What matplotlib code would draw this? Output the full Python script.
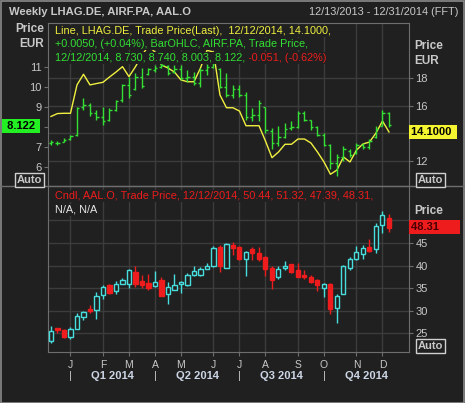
import numpy as np
import matplotlib
matplotlib.use('Agg')
import matplotlib.pyplot as plt
import matplotlib.transforms as mtransforms
from matplotlib.lines import Line2D
from matplotlib.patches import Rectangle

plt.rcParams['font.family'] = ['Liberation Sans', 'DejaVu Sans']

# weekly bars, index 0 = 12/13/2013 ... index 52 = 12/12/2014
weeks = np.arange(53)

# LHAG.DE line (right axis, top panel)
lhag = [15.22, 15.43, 15.45, 15.45, 17.5, 18.27, 17.5, 17.6, 17.69, 18.07,
        18.43, 18.82, 18.1, 18.82, 19.66, 20.3, 19.88, 18.94, 18.72, 18.43,
        17.86, 17.73, 17.73, 18.72, 20.0, 19.88, 16.77, 15.85, 15.85, 15.61,
        14.55, 14.55, 14.55, 13.44, 12.24, 12.65, 13.21, 13.21, 13.59, 13.59,
        13.30, 12.65, 11.93, 11.04, 11.35, 12.29, 11.93, 12.79, 13.23, 13.37,
        14.02, 14.89, 14.10]

# AIRF.PA OHLC (left axis, top panel)
airf_open = [7.2, 7.2, 7.28, 7.4, 7.6, 9.0, 9.1, 8.7, 8.5, 8.35,
             8.85, 9.35, 10.1, 9.9, 10.5, 10.65, 10.85, 11.0, 11.05, 10.75,
             10.9, 10.45, 10.5, 10.2, 10.85, 11.0, 10.9, 10.0, 9.6, 9.9,
             9.6, 8.5, 8.6, 9.0, 7.8, 7.2, 7.5, 7.95, 8.0, 8.7,
             8.35, 8.0, 7.6, 7.1, 6.2, 6.5, 6.8, 6.7, 7.1, 7.0,
             7.5, 8.05, 8.73]
airf_high = [7.35, 7.30, 7.44, 7.63, 9.03, 9.48, 9.22, 8.87, 8.99, 8.97,
             9.37, 10.16, 10.52, 10.70, 10.95, 10.97, 11.10, 11.25, 11.10, 11.10,
             11.10, 10.85, 10.77, 10.95, 11.15, 11.35, 10.95, 10.70, 10.11, 10.11,
             9.78, 8.97, 9.37, 9.03, 7.97, 8.04, 8.21, 8.29, 8.79, 8.79,
             8.38, 8.04, 7.72, 7.14, 6.64, 7.05, 6.89, 7.22, 7.22, 7.39,
             8.04, 8.87, 8.74]
airf_low = [7.09, 7.10, 7.24, 7.34, 7.55, 8.87, 8.54, 8.38, 8.13, 8.29,
            8.79, 9.28, 9.48, 9.86, 9.96, 10.60, 10.77, 10.98, 10.64, 10.70,
            10.36, 10.27, 10.11, 10.02, 10.60, 10.95, 9.96, 9.53, 9.47, 9.53,
            8.38, 8.29, 8.29, 7.72, 6.89, 7.05, 7.47, 7.88, 7.97, 8.29,
            7.88, 7.55, 7.05, 5.90, 5.57, 6.31, 6.48, 6.64, 6.89, 6.89,
            7.47, 8.04, 8.003]
airf_close = [7.25, 7.2, 7.38, 7.55, 8.95, 9.1, 8.7, 8.5, 8.3, 8.85,
              9.3, 10.1, 9.6, 10.5, 10.05, 10.9, 10.95, 11.1, 10.7, 10.9,
              10.45, 10.5, 10.2, 10.85, 11.0, 11.2, 10.0, 9.6, 9.9, 9.6,
              8.5, 8.6, 9.2, 7.85, 7.2, 7.5, 7.9, 8.0, 8.7, 8.35,
              8.0, 7.6, 7.1, 6.2, 6.5, 6.9, 6.6, 7.1, 7.0, 7.3,
              7.9, 8.73, 8.122]

# AAL.O candles (bottom panel)
aal_open = [23.4, 26.1, 25.8, 24.1, 26.0, 28.6, 30.4, 30.1, 33.6, 35.8,
            34.3, 36.0, 36.0, 38.6, 36.6, 36.1, 35.4, 36.9, 33.7, 34.7,
            36.0, 35.6, 38.0, 38.0, 39.2, 39.9, 44.2, 39.5, 44.5, 44.1,
            41.5, 43.6, 42.8, 42.0, 39.4, 37.5, 39.5, 40.3, 39.0, 38.0,
            37.5, 36.9, 35.1, 36.0, 30.6, 33.8, 39.5, 41.4, 42.5, 44.1,
            43.7, 48.9, 50.44]
aal_high = [26.7, 26.3, 26.0, 26.4, 29.4, 29.9, 31.2, 34.1, 35.6, 35.9,
            36.7, 37.2, 39.3, 39.9, 38.0, 38.2, 38.8, 37.5, 36.4, 38.2,
            36.6, 38.4, 39.9, 39.6, 40.5, 44.4, 44.6, 44.9, 45.2, 44.3,
            43.2, 44.1, 44.1, 42.1, 39.9, 40.0, 41.0, 40.4, 40.6, 39.0,
            38.0, 37.0, 36.1, 36.2, 33.8, 40.1, 42.0, 44.3, 44.6, 45.8,
            49.5, 52.0, 51.32]
aal_low = [22.8, 25.0, 24.0, 23.8, 26.0, 27.9, 29.5, 28.2, 32.6, 33.7,
           33.7, 35.9, 35.1, 35.3, 35.0, 34.6, 35.3, 33.2, 31.5, 34.6,
           34.0, 35.4, 37.7, 37.7, 39.2, 39.7, 38.6, 39.4, 42.3, 41.3,
           37.7, 41.3, 41.0, 37.7, 34.8, 37.0, 39.0, 38.3, 37.4, 37.1,
           36.2, 34.3, 33.1, 29.2, 27.4, 33.7, 39.0, 41.3, 41.5, 43.1,
           42.7, 47.2, 47.39]
aal_close = [25.6, 25.7, 24.2, 26.0, 28.9, 29.7, 29.9, 33.2, 35.3, 34.0,
             36.0, 36.9, 39.0, 36.0, 35.7, 35.0, 36.3, 33.2, 35.3, 35.8,
             36.3, 38.0, 38.8, 39.2, 40.0, 44.0, 40.0, 44.7, 44.0, 41.4,
             43.0, 42.8, 41.4, 39.3, 36.9, 39.2, 40.0, 38.6, 37.5, 37.5,
             36.3, 35.6, 36.0, 30.4, 33.2, 39.9, 41.4, 43.0, 44.0, 43.2,
             48.8, 51.2, 48.31]

month_pos = [3, 8, 12, 16, 20, 25, 29, 33, 38, 42, 47, 51]
month_lbl = ['J', 'F', 'M', 'A', 'M', 'J', 'J', 'A', 'S', 'O', 'N', 'D']
quarter_sep = [3, 16, 29, 42]
quarter_mid = [9.5, 22.5, 35.5, 48.5]
quarter_lbl = ['Q1 2014', 'Q2 2014', 'Q3 2014', 'Q4 2014']

BG = '#202020'
GRID = '#3c3c3c'
FRAME = '#6e6e6e'
TXT = '#c8c8c8'
GREEN = '#33e033'
YELLOW = '#f0f040'
RED = '#ee1c1c'
CYAN = '#48dede'

W, H = 465, 403
fig = plt.figure(figsize=(W / 100, H / 100), dpi=100)
fig.patch.set_facecolor(BG)

def fx(x):
    return x / W

def fy(y):
    return 1 - y / H

def ftext(x, y, s, **kw):
    kw.setdefault('va', 'center')
    kw.setdefault('color', TXT)
    return fig.text(fx(x), fy(y), s, **kw)

def boxed(x, y, s, fc, tc, **kw):
    return ftext(x, y, s, color=tc, fontweight='bold', fontsize=8,
                 bbox=dict(facecolor=fc, edgecolor='none', pad=1.5), **kw)

def style(ax):
    ax.set_facecolor(BG)
    for sp in ax.spines.values():
        sp.set_color(FRAME)
    ax.tick_params(colors=TXT, labelsize=8, length=3, width=0.8, pad=1.5)
    ax.tick_params(axis='both', which='both', color=FRAME)
    ax.set_xlim(-0.46, 55.08)
    ax.set_xticks(month_pos)

# ---- top panel: LHAG line (right axis) + AIRF OHLC bars (left axis)
ax_r = fig.add_axes([fx(48), fy(186), 361 / W, 163 / H])
style(ax_r)
ax_r.set_ylim(10.193, 21.976)
ax_r.grid(True, color=GRID, linewidth=1)
ax_r.set_axisbelow(True)
ax_r.tick_params(axis='x', length=0, labelbottom=False)
ax_r.plot(weeks, lhag, color=YELLOW, linewidth=1.0, zorder=2)

ax_l = ax_r.twinx()
# twinx moves the original ticks to the left, put them back on the right
ax_r.yaxis.tick_right()
ax_r.set_yticks([12, 14, 16, 18])
ax_r.set_yticklabels(['12', '', '16', '18'])   # 14 sits under the last-value box
ax_l.yaxis.tick_left()
ax_l.patch.set_visible(False)
for sp in ax_l.spines.values():
    sp.set_visible(False)
ax_l.set_ylim(5.046, 13.23)
ax_l.set_yticks([6, 7, 8, 9, 10, 11])
ax_l.set_yticklabels(['6', '7', '', '9', '10', '11'])
ax_l.tick_params(colors=TXT, labelsize=8, length=3, width=0.8, pad=1.5)
ax_l.tick_params(axis='y', color=FRAME)
ax_l.tick_params(axis='x', length=0, labelbottom=False)
ax_l.set_xlim(-0.46, 55.08)
ax_l.vlines(weeks, airf_low, airf_high, color=GREEN, linewidth=1.0)
ax_l.hlines(airf_open, weeks - 0.38, weeks, color=GREEN, linewidth=1.0)
ax_l.hlines(airf_close, weeks, weeks + 0.38, color=GREEN, linewidth=1.0)

# ---- bottom panel: AAL candles
ax_b = fig.add_axes([fx(48), fy(352), 361 / W, 166 / H])
style(ax_b)
ax_b.set_ylim(20.88, 57.61)
ax_b.yaxis.tick_right()
ax_b.set_yticks([25, 30, 35, 40, 45, 50])
ax_b.set_yticklabels(['25', '30', '35', '40', '45', ''])
ax_b.grid(True, color=GRID, linewidth=1)
ax_b.set_axisbelow(True)
ax_b.set_xticklabels(month_lbl, fontsize=7.5)
ax_b.tick_params(axis='x', pad=2.5)

o = np.array(aal_open)
c = np.array(aal_close)
up = c >= o
col = np.where(up, CYAN, RED)
ax_b.vlines(weeks, aal_low, aal_high, colors=col, linewidth=1.0, zorder=2)
ax_b.bar(weeks[up], (c - o)[up], bottom=o[up], width=0.62,
         facecolor=BG, edgecolor=CYAN, linewidth=1.0, zorder=3)
ax_b.bar(weeks[~up], (c - o)[~up], bottom=o[~up], width=0.62,
         facecolor=RED, edgecolor=RED, linewidth=1.0, zorder=3)

# quarter labels under the month letters
tb = mtransforms.blended_transform_factory(ax_b.transData, fig.transFigure)
for q in quarter_sep:
    ax_b.text(q, fy(376), '|', transform=tb, ha='center', va='center',
              color=TXT, fontsize=8)
for q, s in zip(quarter_mid, quarter_lbl):
    ax_b.text(q, fy(376), s, transform=tb, ha='center', va='center',
              color='#cdd6e6', fontsize=8, fontweight='bold')

# separators / frame
fig.add_artist(Line2D([0, 1], [fy(186), fy(186)], color=FRAME, linewidth=1))
fig.add_artist(Rectangle((0.5 / W, 0.5 / H), 1 - 1.5 / W, 1 - 1.5 / H, fill=False,
                         edgecolor='#8a8a8a', linewidth=1.2))

# header
ftext(9, 12, 'Weekly LHAG.DE, AIRF.PA, AAL.O', fontweight='bold', fontsize=8.1)
ftext(458, 12, '12/13/2013 - 12/31/2014 (FFT)', ha='right', fontsize=7.9)

# legend texts (with background to hide the lines underneath)
lb = dict(facecolor=BG, edgecolor='none', pad=0.6)
ftext(55, 31, 'Line, LHAG.DE, Trade Price(Last),  12/12/2014, 14.1000,',
      color=YELLOW, fontsize=7.8, bbox=lb)
ftext(55, 44, '+0.0050, (+0.04%), BarOHLC, AIRF.PA, Trade Price,',
      color=GREEN, fontsize=7.8, bbox=lb)
t3 = ftext(55, 58, '12/12/2014, 8.730, 8.740, 8.003, 8.122, ',
           color=GREEN, fontsize=7.8, bbox=lb)
ax_r.annotate('-0.051, (-0.62%)', xy=(1, 0), xycoords=t3, va='bottom', ha='left',
              color=RED, fontsize=7.8, bbox=lb, annotation_clip=False)
ftext(55, 196, 'Cndl, AAL.O, Trade Price, 12/12/2014, 50.44, 51.32, 47.39, 48.31,',
      color=RED, fontsize=7.8, bbox=lb)
ftext(55, 210, 'N/A, N/A', color='#e6e6e6', fontsize=7.8, bbox=lb)

# axis headers
ftext(44, 29, 'Price', ha='right', fontweight='bold', fontsize=8.5)
ftext(44, 44, 'EUR', ha='right', fontweight='bold', fontsize=8.5)
ftext(414, 46, 'Price', fontweight='bold', fontsize=8.5)
ftext(414, 61, 'EUR', fontweight='bold', fontsize=8.5)
ftext(414, 211, 'Price', fontweight='bold', fontsize=8.5)

# current value boxes
boxed(4, 126, ' 8.122 ', '#22f022', 'black')
boxed(411, 132, '14.1000 ', '#f4f430', 'black')
boxed(411, 227, '48.31      ', '#ee1c1c', '#4a0000')

# auto buttons
for (x, y) in [(17, 180), (418, 180), (418, 346)]:
    ftext(x, y, 'Auto', fontweight='bold', fontsize=8,
          bbox=dict(facecolor=BG, edgecolor='#d0d0d0', pad=1.2, linewidth=1))

fig.savefig('out.png', dpi=100, facecolor=BG)
